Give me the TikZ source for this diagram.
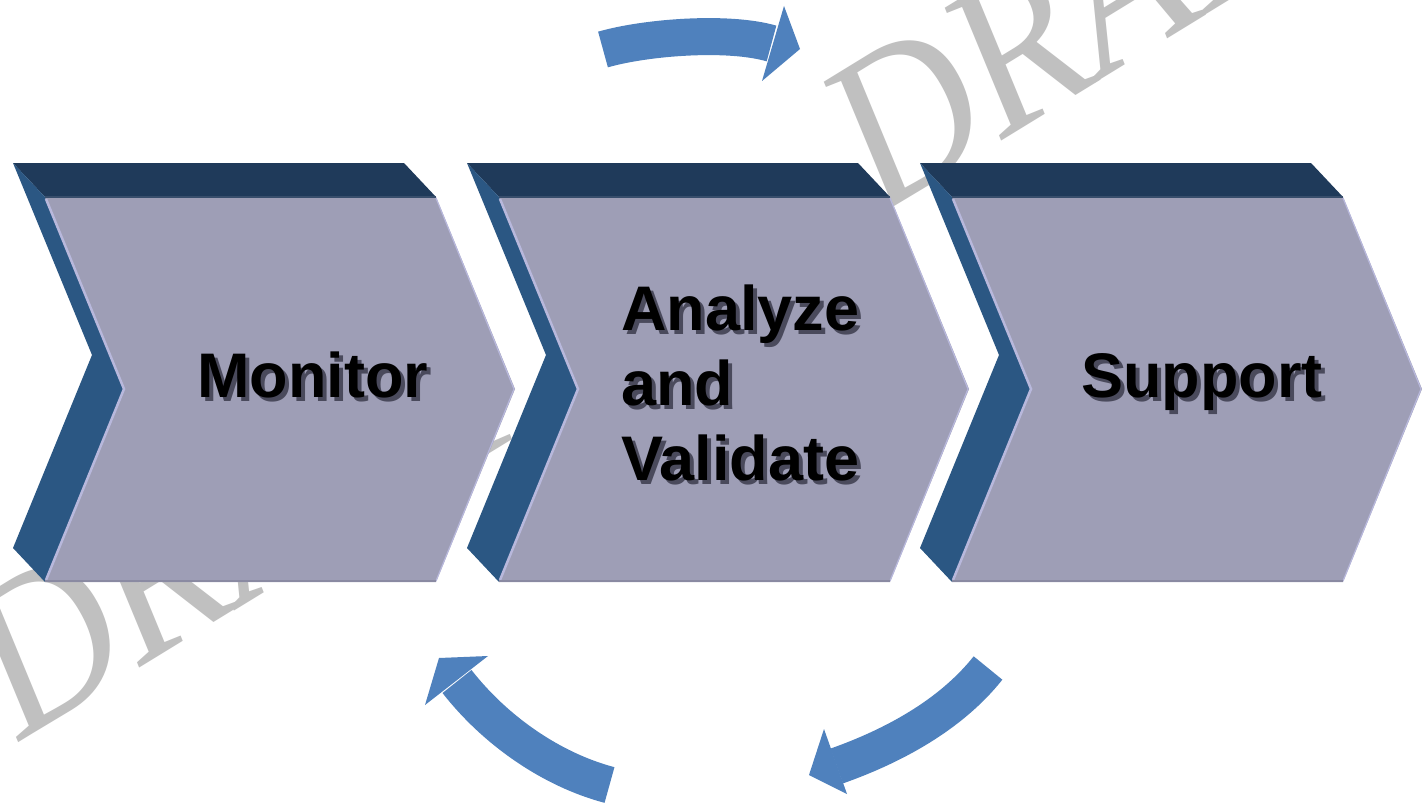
\documentclass[tikz,border=0pt]{standalone}
\usepackage{fontspec}
\setmainfont{Liberation Sans}
\newfontfamily\wmfont{Liberation Serif}[FakeStretch=0.9]
\definecolor{topface}{HTML}{1F3A5A}
\definecolor{sideface}{HTML}{2B5783}
\definecolor{frontface}{HTML}{9E9EB6}
\definecolor{edgelight}{HTML}{B8B8DC}
\definecolor{edgedark}{HTML}{8A8AA2}
\definecolor{arrowblue}{HTML}{4F81BD}
\definecolor{wmgray}{HTML}{C0C0C0}
\definecolor{txtshadow}{HTML}{4A4A5C}
\newcommand{\shadowed}[1]{\rlap{\kern4pt\raisebox{-4pt}{\color{txtshadow}#1}}#1}
\newcommand{\chevronshape}[1]{%
  \begin{scope}[xshift=#1]
    \fill[topstyle] (13,163) -- (404,163) -- (436,197) -- (45,197) -- cycle;
    \fill[sidestyle] (13,163) -- (45,197) -- (124,389) -- (45,582) -- (13,548) -- (92,355) -- cycle;
    \fill[frontstyle] (45,197) -- (436,197) -- (515,389) -- (436,582) -- (45,582) -- (124,389) -- cycle;
    \draw[lightedge] (46,199) -- (124,389) -- (46,580);
    \draw[lightedge, line width=1.2pt] (436,198) -- (514,389) -- (436,581);
    \draw[darkedge] (45,581) -- (436,581);
    \draw[topedge] (45,197) -- (436,197);
  \end{scope}}
\begin{document}
\begin{tikzpicture}[x=1pt,y=-1pt,
  topstyle/.style={fill=topface},
  sidestyle/.style={fill=sideface},
  frontstyle/.style={fill=frontface},
  lightedge/.style={draw=edgelight, line width=2.5pt},
  darkedge/.style={draw=edgedark, line width=1.5pt},
  topedge/.style={draw=topface!80!frontface, line width=1.5pt},
  arrowbody/.style={draw=arrowblue, line width=37pt, line cap=butt},
  arrowhead/.style={fill=arrowblue},
  lbl/.style={font=\fontsize{63}{75}\bfseries\selectfont, inner sep=0pt, anchor=base west, text=black},
  watermark/.style={font=\wmfont\itshape\fontsize{218}{218}\selectfont, text=wmgray, inner sep=0pt, anchor=base west, rotate=31.5}]
\useasboundingbox (0,0) rectangle (1422,808);
\fill[white] (0,0) rectangle (1422,808);
% watermark
\node[watermark] (wm1) at (20,742) {DRAFT};
\node[watermark] (wm2) at (881.5,214.3) {DRAFT};
% chevrons
\chevronshape{0pt}
\chevronshape{454pt}
\chevronshape{907pt}
% labels
\node[lbl] (monitor) at (197,397) {\shadowed{Monitor}};
\node[lbl] (analyze) at (621,330) {\begin{tabular}[t]{@{}l@{}}\shadowed{Analyze}\\ \shadowed{and}\\ \shadowed{Validate}\end{tabular}};
\node[lbl] (support) at (1081,397) {\shadowed{Support}};
% curved arrows
\coordinate (t0) at (603,49.5);
\coordinate (t1) at (771.5,43.5);
\draw[arrowbody] (t0) .. controls (646.3,37.1) and (728.3,30.9) .. (t1);
\fill[arrowhead] (784,6) -- (800,49) -- (762,81) -- cycle;
\coordinate (r0) at (988,668);
\coordinate (r1) at (836.7,766);
\draw[arrowbody] (r0) .. controls (950.7,715) and (893.3,746) .. (r1);
\fill[arrowhead] (824,729) -- (809,775) -- (847,794) -- cycle;
\coordinate (l0) at (609.5,785);
\coordinate (l1) at (457,681.5);
\draw[arrowbody] (l0) .. controls (550.5,769.4) and (494.5,729.6) .. (l1);
\fill[arrowhead] (439,658) -- (488,656) -- (425,705) -- cycle;
\end{tikzpicture}
\end{document}
